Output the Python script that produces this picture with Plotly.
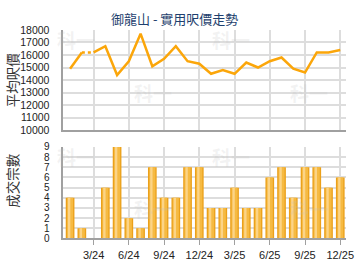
import plotly.graph_objects as go

months = ["1/24","2/24","3/24","4/24","5/24","6/24","7/24","8/24","9/24","10/24","11/24","12/24",
          "1/25","2/25","3/25","4/25","5/25","6/25","7/25","8/25","9/25","10/25","11/25","12/25"]
prices = [14900, 16200, 16200, 16700, 14400, 15500, 17700, 15100, 15700, 16700, 15500, 15300,
          14500, 14800, 14500, 15400, 15000, 15500, 15800, 14900, 14600, 16200, 16200, 16400]
deals = [4, 1, 0, 5, 9, 2, 1, 7, 4, 4, 7, 7, 3, 3, 5, 3, 3, 6, 7, 4, 7, 7, 5, 6]
tick_idx = [2, 5, 8, 11, 14, 17, 20, 23]
tick_text = [months[i] for i in tick_idx]
title = "御龍山 - 實用呎價走勢"

x = list(range(len(months)))
W, H = 360, 270
fig = go.Figure()

line_col = "#FBA60A"
fig.add_trace(go.Scatter(x=x[0:2], y=prices[0:2], mode="lines",
                         line=dict(color=line_col, width=2.5), xaxis="x", yaxis="y", showlegend=False))
fig.add_trace(go.Scatter(x=x[1:3], y=prices[1:3], mode="lines",
                         line=dict(color=line_col, width=2.5, dash="dot"), xaxis="x", yaxis="y", showlegend=False))
fig.add_trace(go.Scatter(x=x[2:], y=prices[2:], mode="lines",
                         line=dict(color=line_col, width=2.5), xaxis="x", yaxis="y", showlegend=False))

fig.add_trace(go.Bar(x=x, y=deals, width=0.74, marker=dict(color="#EBA01A", line=dict(width=0)),
                     xaxis="x2", yaxis="y2", showlegend=False))
fig.add_trace(go.Bar(x=x, y=deals, width=0.52, marker=dict(color="#F6BA42", line=dict(width=0)),
                     xaxis="x2", yaxis="y2", showlegend=False))
fig.add_trace(go.Bar(x=x, y=deals, width=0.2, offset=-0.18, marker=dict(color="#FCD487", line=dict(width=0)),
                     xaxis="x2", yaxis="y2", showlegend=False))

xdom = [64 / W, 354 / W]
xrng = [-0.64, 23.5]
grid = "#DDDDDD"
axcol = "#A0A0A0"
font_top = dict(family="Liberation Sans, Arial", size=10.5, color="#222222")
font_bot = dict(family="Liberation Sans, Arial", size=10, color="#222222")
font_x = dict(family="Liberation Sans, Arial", size=11, color="#222222")

fig.update_layout(
    width=W, height=H,
    margin=dict(l=0, r=0, t=0, b=0),
    paper_bgcolor="white", plot_bgcolor="white",
    barmode="overlay",
    xaxis=dict(domain=xdom, range=xrng, anchor="y", tickvals=tick_idx, showticklabels=False,
               showgrid=True, gridcolor=grid, gridwidth=1.5, showline=True, linecolor=axcol, linewidth=2,
               zeroline=False, fixedrange=True),
    yaxis=dict(domain=[1 - 130 / H, 1 - 25 / H], range=[10000, 18000], dtick=1000, anchor="x",
               tickformat="d",
               showgrid=True, gridcolor=grid, gridwidth=1.5, showline=True, linecolor=axcol, linewidth=2,
               zeroline=False, tickfont=font_top, ticks="", ticklabelstandoff=9),
    xaxis2=dict(domain=xdom, range=xrng, anchor="y2", tickvals=tick_idx, ticktext=tick_text,
                showgrid=True, gridcolor=grid, gridwidth=1.5, showline=True, linecolor=axcol, linewidth=2,
                ticks="outside", ticklen=5, tickcolor=axcol, zeroline=False, tickfont=font_x,
                ticklabeloverflow="allow"),
    yaxis2=dict(domain=[1 - 243.3 / H, 1 - 147.5 / H], range=[0, 9], dtick=1, anchor="x2",
                showgrid=True, gridcolor=grid, gridwidth=1.5, showline=True, linecolor=axcol, linewidth=2,
                zeroline=False, tickfont=font_bot, ticks="", ticklabelstandoff=9),
)

ann = []
ann.append(dict(text=title, x=178 / W, y=1 - 13 / H, xref="paper", yref="paper", showarrow=False,
                font=dict(family="Noto Sans CJK TC", size=13, color="#1E3F6E"), xanchor="center", yanchor="middle"))
ann.append(dict(text="平均呎價", x=12 / W, y=1 - 77 / H, xref="paper", yref="paper", showarrow=False,
                textangle=-90, font=dict(family="Noto Sans CJK TC", size=13.5, color="#333333"),
                xanchor="center", yanchor="middle"))
ann.append(dict(text="成交宗數", x=12 / W, y=1 - 182 / H, xref="paper", yref="paper", showarrow=False,
                textangle=-90, font=dict(family="Noto Sans CJK TC", size=13.5, color="#333333"),
                xanchor="center", yanchor="middle"))
for (px, py) in [(78, 35), (236, 35), (156, 91), (316, 91), (78, 157), (236, 157), (156, 212), (316, 212)]:
    ann.append(dict(text="<b>科一</b>", x=px / W, y=1 - py / H, xref="paper", yref="paper", showarrow=False,
                    font=dict(family="Noto Sans CJK TC", size=19, color="rgba(190,190,190,0.2)"),
                    xanchor="center", yanchor="middle"))
fig.update_layout(annotations=ann)

fig.write_html("out.html")
